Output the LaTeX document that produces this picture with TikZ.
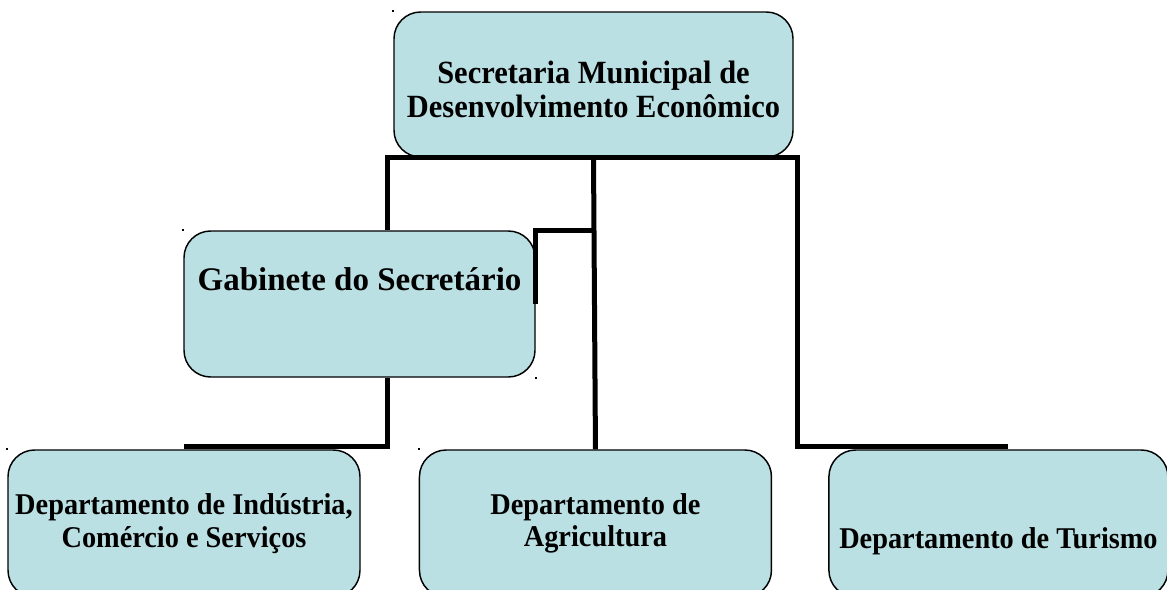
\documentclass[tikz,border=0pt]{standalone}
\usepackage{fontspec}
\setmainfont{Liberation Serif}
\newfontfamily\narrowserif{Liberation Serif}[FakeStretch=0.94]
\usetikzlibrary{positioning,calc}
\definecolor{boxfill}{RGB}{187,224,227}
\tikzset{unit/.style={draw,line width=1.1pt,fill=boxfill,rounded corners=20pt,align=center,inner sep=0pt},
         dept/.style={unit,minimum width=264pt,minimum height=110.25pt,font=\narrowserif\bfseries\fontsize{22.6}{24.5}\selectfont}
}
\tikzstyle{conn} = [line width=3.75pt]

\begin{document}
\begin{tikzpicture}[x=0.75pt,y=-0.75pt]
\useasboundingbox (0,0) rectangle (1167,589);
\clip (0,0) rectangle (1167,589);

\node[unit,minimum width=299.25pt,minimum height=108.75pt,font=\narrowserif\bfseries\fontsize{24.3}{25.5}\selectfont] (sec) at (593.5,84.5) {\rule{0pt}{24pt}Secretaria Municipal de\\Desenvolvimento Econômico};
\node[unit,minimum width=263.25pt,minimum height=109.5pt,font=\bfseries\fontsize{24.75}{29}\selectfont,text depth=38pt] (gab) at (359.5,304) {Gabinete do Secretário};
\node[dept] (dind) at (184,523.5) {Departamento de Indústria,\\Comércio e Serviços};
\node[dept,right=43.5pt of dind] (dagr) {Departamento de\\Agricultura};
\node[dept,right=42pt of dagr,minimum width=254.25pt,text height=42pt] (dtur) {Departamento de Turismo};

\coordinate (gtop) at ($(gab.north)+(27.5,0)$);
\coordinate (gbot) at ($(gab.south)+(27.5,0)$);
\coordinate (ttap) at ($(sec.south east)+(4,0)$);
\draw[conn] (gtop) |- (ttap) |- ($(dtur.north)+(10,-3)$);
\draw[conn] (sec.south) -- (dagr.north);
\draw[conn] (sec.south |- gab.north) -| (gab.east);
\draw[conn] (gbot) |- ($(dind.north)+(0,-3)$);

\foreach \c in {sec.north west,gab.north west,gab.south east,dind.north west,dagr.north west}
  \fill (\c) ++(-1,-1) rectangle ++(2,2);

\end{tikzpicture}
\end{document}
